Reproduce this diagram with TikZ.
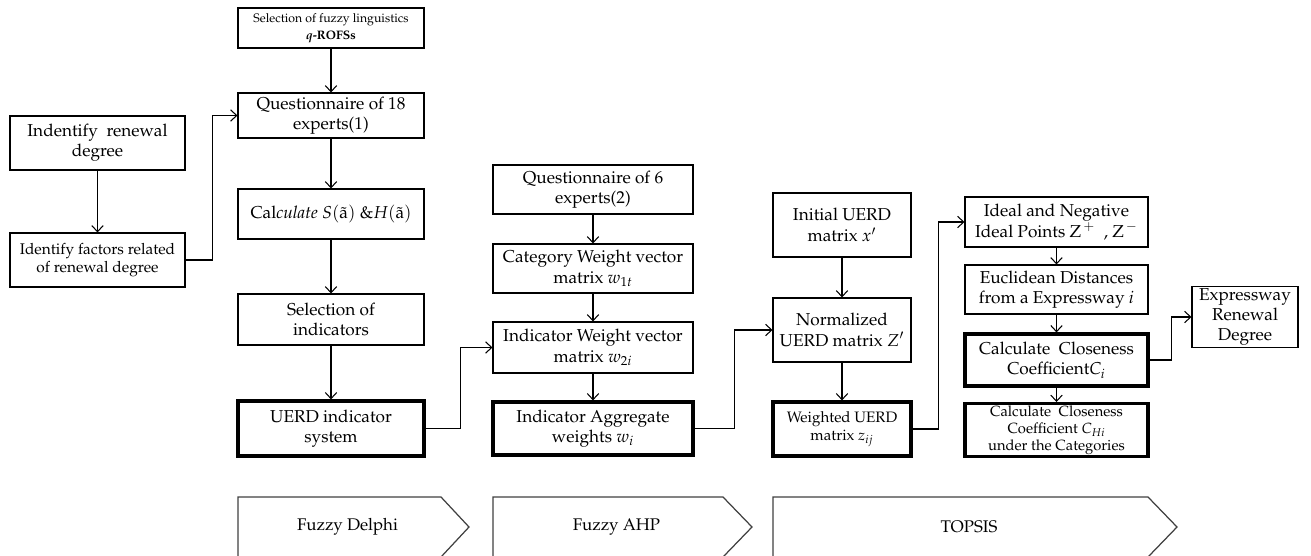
\documentclass[tikz,border=0pt]{standalone}
\usepackage[T1]{fontenc}
\usepackage{mathpazo}
\usepackage{tikz}
\usetikzlibrary{arrows.meta, positioning, calc}

\tikzset{
  wd/.style={minimum width=#1*0.02cm},
  ht/.style={minimum height=#1*0.02cm},
  box/.style={draw, line width=0.6pt, align=center, inner sep=1pt,
              font=\fontsize{9.8}{11.6}\selectfont},
  keybox/.style={box, line width=1.8pt},
  arr/.style={line width=0.6pt, -{Straight Barb[length=3.5pt,width=6.5pt]}},
  phase/.style={draw=black!75, line width=0.7pt, fill=white},
}

\begin{document}
\begin{tikzpicture}[x=0.02cm, y=-0.02cm]
  \useasboundingbox (0,0) rectangle (1311,555);
  \clip (0,0) rectangle (1311,555);
  % Fuzzy Delphi column
  \node[box, wd=186, ht=40, font=\fontsize{7}{9.6}\selectfont] (sel) at (331,28)
    {Selection of fuzzy linguistics\\ \textbf{\textit{q}-ROFSs}};
  \node[box, wd=186, ht=45] (q18) at (331,115.5) {Questionnaire of 18\\ experts(1)};
  \node[box, wd=175, ht=54] (idr) at (97.5,143) {Indentify\ \ renewal\\ degree};
  \node[box, wd=175, ht=54, font=\fontsize{8.8}{10}\selectfont] (idf) at (97.5,260)
    {Identify factors related\\ of renewal degree};
  \node[box, wd=186, ht=50] (calc) at (331,214)
    {Cal\textit{culate} $S(\tilde{\mathrm{a}})$ \&$H(\tilde{\mathrm{a}})$};
  \node[box, wd=186, ht=51] (seli) at (331,319.5) {Selection of\\ indicators};
  \node[keybox, wd=186, ht=55] (uerd) at (331,428.5) {UERD indicator\\ system};
  % Fuzzy AHP column
  \node[box, wd=200, ht=49] (q6) at (593,189.5) {Questionnaire of 6\\ experts(2)};
  \node[box, wd=200, ht=49] (cat) at (593,268.5) {Category Weight vector\\ matrix $w_{1t}$};
  \node[box, wd=200, ht=51] (iw) at (593,347.5) {Indicator Weight vector\\ matrix $w_{2i}$};
  \node[keybox, wd=200, ht=53] (agg) at (593,428.5) {Indicator Aggregate\\ weights $w_i$};
  % TOPSIS columns
  \node[box, wd=138, ht=64] (init) at (842,225) {Initial UERD\\ matrix $x'$};
  \node[box, wd=138, ht=64] (norm) at (842,330) {Normalized\\ UERD matrix $Z'$};
  \node[keybox, wd=138, ht=54, font=\fontsize{8.6}{10.6}\selectfont] (wtd) at (842,429)
    {Weighted UERD\\ matrix $z_{ij}$};
  \node[box, wd=183, ht=50] (ideal) at (1056.5,222)
    {Ideal and Negative\\ Ideal Points Z$^{\,+}$\ \ , Z$^{\,-}$};
  \node[box, wd=183, ht=49] (eucl) at (1056.5,289.5)
    {Euclidean Distances\\ from a Expressway $i$};
  \node[keybox, wd=183, ht=52] (ci) at (1056.5,360)
    {Calculate\ \ Closeness\\ Coefficient$C_i$};
  \node[keybox, wd=183, ht=52, font=\fontsize{8.4}{9.8}\selectfont] (chi) at (1056.5,430)
    {Calculate\ \ Closeness\\ Coefficient $C_{Hi}$\\ under the Categories};
  \node[box, wd=106, ht=60] (erd) at (1245,317) {Expressway\\ Renewal\\ Degree};

  % vertical flows
  \draw[arr] (sel) -- (q18);
  \draw[arr] (idr) -- (idf);
  \draw[arr] (q18) -- (calc);
  \draw[arr] (calc) -- (seli);
  \draw[arr] (seli) -- (uerd);
  \draw[arr] (q6) -- (cat);
  \draw[arr] (cat) -- (iw);
  \draw[arr] (iw) -- (agg);
  \draw[arr] (init) -- (norm);
  \draw[arr] (norm) -- (wtd);
  \draw[arr] (ideal) -- (eucl);
  \draw[arr] (eucl) -- (ci);
  \draw[arr] (ci) -- (chi);
  % elbow links between columns
  \draw[arr] (idf.east) -- ++(26.5,0) |- (q18.west);
  \draw[arr] (uerd.east) -- ++(34.5,0) |- (iw.west);
  \draw[arr] (agg.east) -- ++(40,0) |- (norm.west);
  \draw[arr] (wtd.east) -- ++(26,0) |- (ideal.west);
  \draw[arr] (ci.east) -- ++(22,0) |- (erd.west);

  % phase chevrons
  \foreach \l/\r/\t/\lbl/\nm in {238/441/469/Fuzzy Delphi/fd,
                                  493/723/752/Fuzzy AHP/fa,
                                  773/1148/1177/TOPSIS/tp} {
    \draw[phase] (\l,497) -- (\r,497) -- (\t,527) -- (\r,557) -- (\l,557) -- cycle;
    \node[font=\fontsize{9.6}{11.6}\selectfont] (\nm) at ({(\l+\t)/2-6},527) {\lbl};
  }
\end{tikzpicture}
\end{document}
